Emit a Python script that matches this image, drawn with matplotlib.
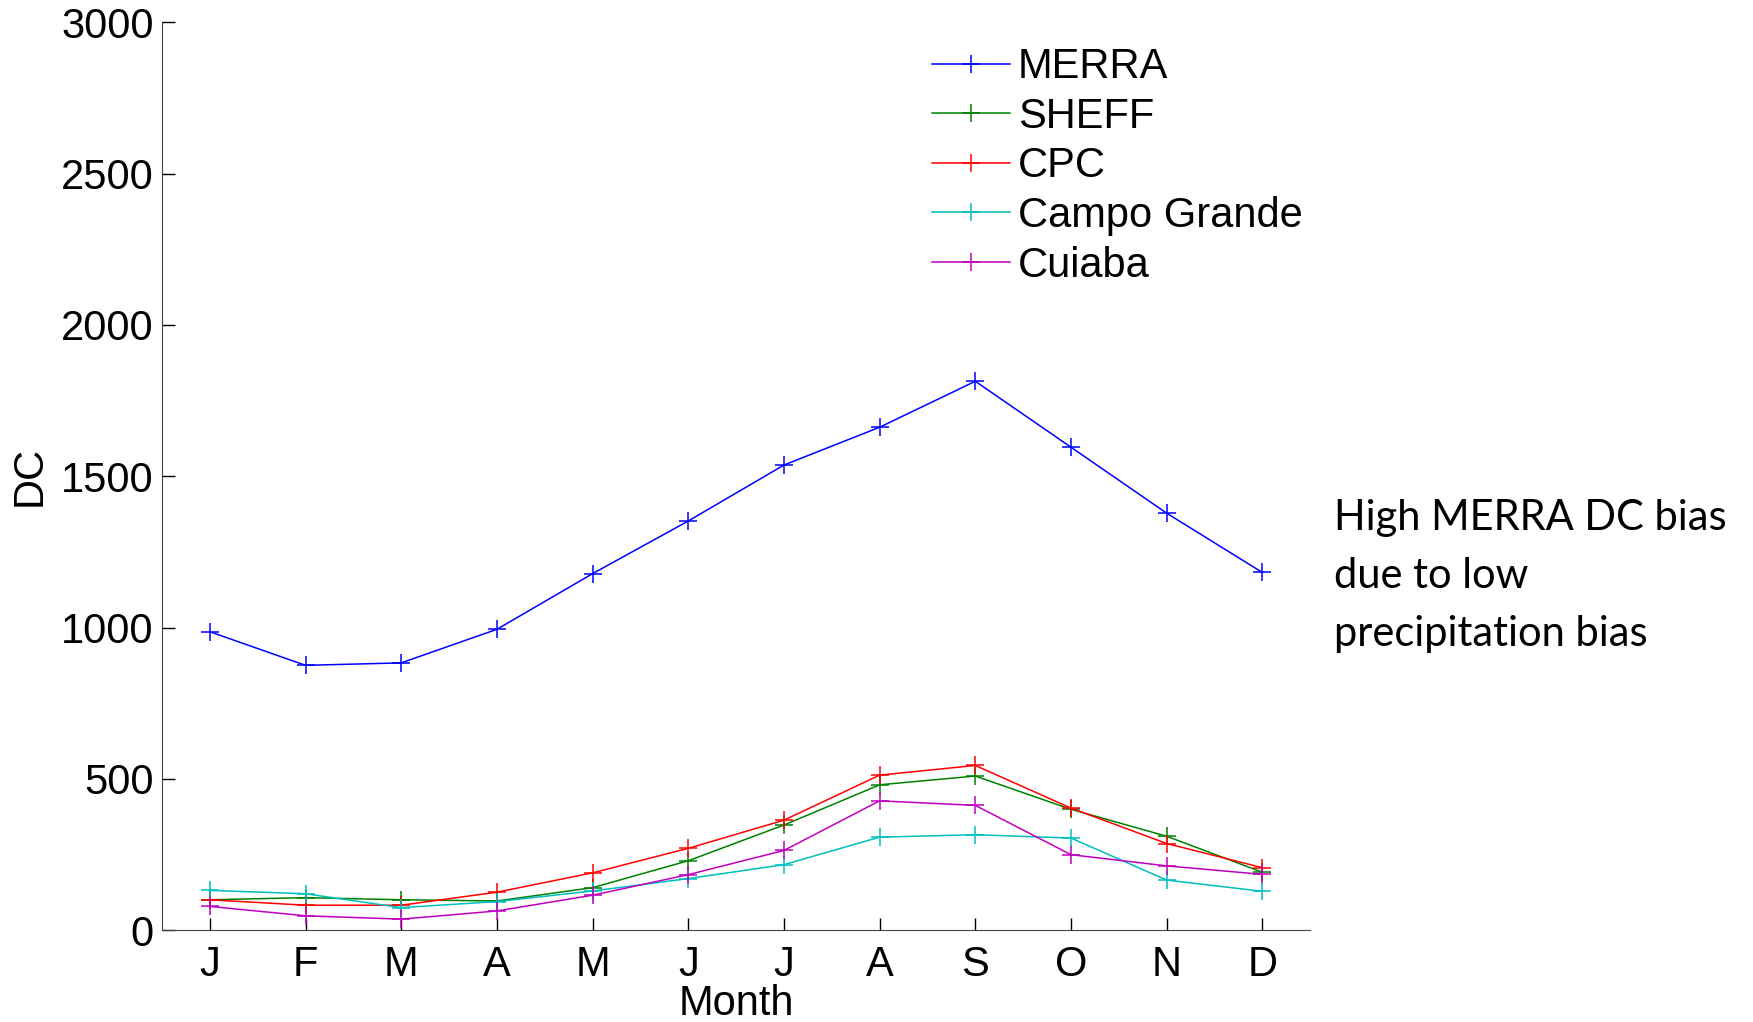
import matplotlib
matplotlib.use("Agg")
import matplotlib.pyplot as plt
import numpy as np

months = ["J", "F", "M", "A", "M", "J", "J", "A", "S", "O", "N", "D"]
merra = [986, 875, 883, 994, 1178, 1352, 1537, 1662, 1814, 1596, 1378, 1182]
sheff = [100, 107, 100, 96, 140, 229, 347, 480, 509, 399, 310, 191]
cpc = [100, 82, 82, 125, 189, 270, 363, 512, 544, 403, 286, 206]
campo = [131, 120, 74, 94, 129, 170, 216, 307, 315, 304, 165, 128]
cuiaba = [78, 47, 36, 63, 115, 183, 263, 427, 412, 249, 212, 184]

series = [
    ("MERRA", merra, (0, 0, 1)),
    ("SHEFF", sheff, (0, 0.5, 0)),
    ("CPC", cpc, (1, 0, 0)),
    ("Campo Grande", campo, (0, 0.75, 0.75)),
    ("Cuiaba", cuiaba, (0.75, 0, 0.75)),
]

plt.rcParams["font.family"] = ["Liberation Sans", "DejaVu Sans"]

fig = plt.figure(figsize=(17.53, 10.22), dpi=100)
ax = fig.add_axes([0.0924, 0.090, 0.655, 0.888])

x = np.arange(1, 13)
for name, vals, col in series:
    ax.plot(x, vals, color=col, lw=1.1, marker="+", markersize=13,
            markeredgewidth=1.1, label=name)

ax.set_xlim(0.5, 12.5)
ax.set_ylim(0, 3000)
ax.set_xticks(x)
ax.set_xticklabels(months)
ax.set_yticks(np.arange(0, 3001, 500))
ax.tick_params(direction="in", length=9, width=1, labelsize=30)
ax.tick_params(axis="x", pad=11)
ax.tick_params(axis="y", pad=6)
ax.spines["top"].set_visible(False)
ax.spines["right"].set_visible(False)
for s in ("left", "bottom"):
    ax.spines[s].set_color("#444444")
ax.set_xlabel("Month", fontsize=30, labelpad=-1)
ax.set_ylabel("DC", fontsize=30, labelpad=8)

ax.legend(loc="upper left", bbox_to_anchor=(0.656, 0.991), frameon=False,
          fontsize=30, handlelength=1.87, handletextpad=0.2, labelspacing=0.23,
          borderaxespad=0)

fig.text(0.761, 0.512, "High MERRA DC bias\ndue to low\nprecipitation bias",
         fontsize=30, family=["Lato", "DejaVu Sans"], va="top", ha="left",
         linespacing=1.65)

fig.savefig("out.png", dpi=100)
